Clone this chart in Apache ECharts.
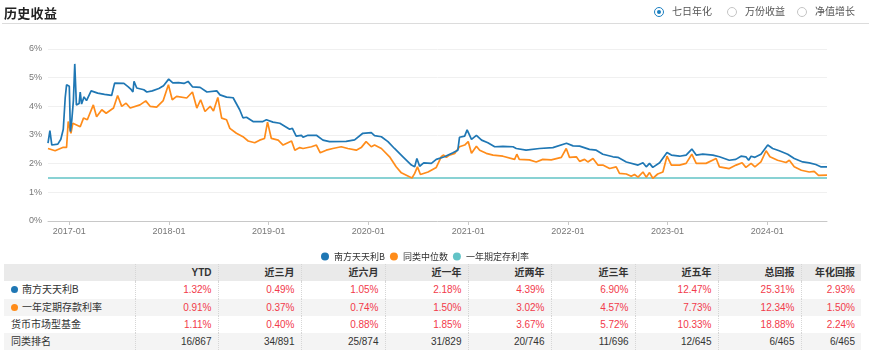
<!DOCTYPE html>
<html><head><meta charset="utf-8">
<script src="https://cdn.jsdelivr.net/npm/echarts@6/dist/echarts.min.js"></script>
<style>
html,body{margin:0;padding:0;background:#fff;width:869px;height:356px;overflow:hidden;font-family:"Liberation Sans",Arial,"Noto Sans CJK SC",sans-serif;}
#chart{position:absolute;left:0;top:0;width:869px;height:262px;}
#title{position:absolute;left:4px;top:3px;font-size:13px;font-weight:bold;color:#222;z-index:2;letter-spacing:0.3px}
#rule{position:absolute;left:2px;right:0;top:23px;height:1px;background:#dcdcdc;z-index:2}
.radio{position:absolute;top:6px;font-size:10px;color:#555;z-index:2;line-height:12px}
.radio i{position:absolute;left:-18px;top:1px;width:8px;height:8px;border:1px solid #c4c4c4;border-radius:50%;box-sizing:content-box}
.radio.on i{border-color:#1b7fc0}
.radio.on i:after{content:"";position:absolute;left:2px;top:2px;width:4px;height:4px;border-radius:50%;background:#1b7fc0}
table{position:absolute;left:4px;top:264px;border-collapse:collapse;table-layout:fixed;width:857px;font-size:10px;color:#333;z-index:2}
td,th{height:17.3px;padding:0 6px 0 0;text-align:right;white-space:nowrap;border-left:1px dotted #d6d6d6;line-height:17px}
td:first-child,th:first-child{text-align:left;padding-left:7px;border-left:none}
thead th{background:#eaeaea;font-weight:bold;color:#333}
tbody tr:nth-child(2) td,tbody tr:nth-child(4) td{background:#f4f4f4}
.r{color:#f23a4a}
.dot{display:inline-block;width:7px;height:7px;border-radius:50%;margin-right:4px;vertical-align:-0px}
</style></head>
<body>
<div id="chart"></div>
<div id="title">历史收益</div>
<div id="rule"></div>
<div class="radio on" style="left:672px"><i></i>七日年化</div>
<div class="radio" style="left:745px"><i></i>万份收益</div>
<div class="radio" style="left:815px"><i></i>净值增长</div>
<table id="tbl"><colgroup id="cg"></colgroup><thead><tr id="hrow"></tr></thead><tbody id="tb"></tbody></table>
<script>
// ---- chart data ----
const seriesNames = ['南方天天利B', '同类中位数', '一年期定存利率'];
const fundDates = ['2016-10-15','2016-10-22','2016-10-29','2016-11-20','2016-12-01','2016-12-10','2016-12-17','2016-12-22','2017-01-01','2017-01-05','2017-01-10','2017-01-16','2017-01-21','2017-01-27','2017-02-06','2017-02-10','2017-02-15','2017-02-24','2017-03-05','2017-03-22','2017-04-15','2017-05-10','2017-06-05','2017-06-16','2017-07-20','2017-08-05','2017-08-16','2017-08-22','2017-08-26','2017-09-05','2017-10-01','2017-10-12','2017-11-01','2017-11-25','2017-12-12','2017-12-31','2018-01-15','2018-02-05','2018-02-25','2018-03-12','2018-03-28','2018-04-25','2018-05-20','2018-06-25','2018-07-07','2018-07-31','2018-08-24','2018-09-17','2018-09-29','2018-10-12','2018-11-05','2018-12-11','2018-12-24','2019-01-17','2019-02-11','2019-03-19','2019-03-29','2019-04-12','2019-05-01','2019-05-07','2019-05-25','2019-06-25','2019-07-19','2019-08-12','2019-10-12','2019-11-12','2019-12-12','2020-01-12','2020-01-24','2020-02-18','2020-03-13','2020-04-06','2020-05-07','2020-06-07','2020-06-19','2020-06-27','2020-07-07','2020-07-22','2020-08-19','2020-09-06','2020-10-06','2020-11-06','2020-11-24','2020-11-30','2020-12-19','2020-12-28','2021-01-13','2021-01-31','2021-02-19','2021-03-14','2021-04-08','2021-05-08','2021-06-14','2021-06-26','2021-08-01','2021-09-19','2021-11-07','2021-12-27','2022-01-20','2022-02-13','2022-03-21','2022-04-15','2022-05-09','2022-06-15','2022-07-03','2022-08-03','2022-09-15','2022-10-03','2022-10-15','2022-10-27','2022-11-08','2022-12-03','2022-12-30','2023-01-15','2023-02-14','2023-03-10','2023-03-31','2023-04-16','2023-05-10','2023-06-16','2023-07-10','2023-08-15','2023-09-08','2023-09-27','2023-10-15','2023-10-25','2023-11-03','2023-11-17','2023-12-09','2024-01-03','2024-01-21','2024-02-14','2024-03-16','2024-04-09','2024-05-10','2024-06-03','2024-06-27','2024-07-15','2024-08-07'];
const fundValues = [2.72,3.15,2.65,2.68,2.85,3.2,4.3,4.75,4.7,3.12,3.5,4.2,5.48,4.05,4.1,4.5,4.08,4.33,4.2,4.54,4.46,4.42,4.38,4.81,4.8,4.68,4.58,4.5,4.87,4.64,4.58,4.5,4.54,4.62,4.72,4.95,4.82,4.83,4.8,4.87,4.68,4.66,4.5,4.54,4.4,4.32,4.3,3.88,3.6,3.62,3.47,3.47,3.53,3.45,3.41,3.2,3.23,2.96,2.99,2.92,2.99,2.99,2.82,2.77,2.78,2.83,3.06,3.08,2.98,2.94,2.77,2.53,2.24,1.95,1.89,2.18,1.91,2.03,2.01,2.15,2.24,2.38,2.47,2.92,2.96,3.18,2.85,2.99,2.82,2.73,2.59,2.6,2.59,2.53,2.47,2.53,2.56,2.71,2.62,2.61,2.5,2.47,2.33,2.24,2.22,2.06,1.95,2.03,1.89,2.01,1.87,2.03,2.39,2.3,2.26,2.3,2.51,2.3,2.33,2.3,2.24,2.12,2.15,2.26,2.24,2.12,2.26,2.22,2.33,2.65,2.53,2.45,2.33,2.18,2.06,2.03,1.97,1.89,1.89];
const medianDates = ['2016-10-15','2016-11-10','2016-12-10','2016-12-22','2016-12-28','2017-01-07','2017-01-14','2017-02-10','2017-02-22','2017-03-08','2017-03-30','2017-04-11','2017-04-30','2017-05-16','2017-06-12','2017-06-27','2017-07-12','2017-07-28','2017-08-12','2017-09-17','2017-10-08','2017-10-24','2017-11-17','2017-12-11','2017-12-30','2018-01-13','2018-01-29','2018-03-07','2018-03-28','2018-04-13','2018-04-27','2018-05-13','2018-06-01','2018-06-13','2018-06-29','2018-07-13','2018-07-31','2018-08-12','2018-09-05','2018-09-29','2018-10-18','2018-11-11','2018-11-29','2018-12-17','2018-12-28','2019-01-11','2019-02-05','2019-02-23','2019-03-26','2019-04-07','2019-04-25','2019-05-07','2019-06-07','2019-06-25','2019-07-09','2019-07-31','2019-08-24','2019-09-24','2019-10-18','2019-11-18','2019-12-06','2019-12-24','2020-01-12','2020-01-24','2020-02-18','2020-03-19','2020-04-12','2020-05-01','2020-05-25','2020-06-09','2020-06-19','2020-06-29','2020-07-10','2020-08-07','2020-09-06','2020-09-24','2020-10-03','2020-10-13','2020-10-24','2020-11-13','2020-11-30','2020-12-19','2021-01-01','2021-01-13','2021-01-31','2021-02-12','2021-03-08','2021-04-02','2021-05-08','2021-06-20','2021-06-28','2021-07-07','2021-08-13','2021-09-07','2021-10-01','2021-11-01','2021-12-08','2021-12-26','2022-01-07','2022-02-01','2022-02-13','2022-03-03','2022-03-15','2022-04-03','2022-04-21','2022-05-09','2022-06-03','2022-06-27','2022-07-09','2022-08-03','2022-08-21','2022-09-02','2022-09-15','2022-10-03','2022-10-15','2022-10-27','2022-11-08','2022-11-26','2022-12-15','2022-12-30','2023-01-15','2023-02-14','2023-03-10','2023-03-31','2023-04-16','2023-05-22','2023-06-28','2023-07-10','2023-08-15','2023-09-09','2023-10-01','2023-10-15','2023-11-03','2023-11-17','2023-12-09','2023-12-28','2024-01-11','2024-02-08','2024-03-10','2024-03-22','2024-04-09','2024-05-05','2024-06-03','2024-06-21','2024-07-07','2024-08-07'];
const medianValues = [2.53,2.45,2.57,2.57,3.47,3.06,3.41,3.29,3.59,3.53,4.05,3.64,3.88,3.76,3.94,4.38,4.0,4.11,3.94,4.05,4.19,4.0,3.97,4.2,4.75,4.23,4.35,4.29,4.5,3.94,4.23,3.82,4.0,3.84,4.31,3.59,3.53,3.23,3.06,2.94,2.79,2.73,2.82,2.88,3.45,2.88,2.82,2.65,2.79,2.47,2.56,2.53,2.59,2.65,2.38,2.47,2.53,2.59,2.53,2.47,2.56,2.77,2.59,2.65,2.53,2.24,1.89,1.68,1.57,1.5,1.66,1.89,1.62,1.71,1.87,2.24,2.3,2.22,2.3,2.36,2.59,2.65,2.77,2.36,2.61,2.47,2.36,2.3,2.26,2.15,2.33,2.15,2.13,2.06,2.15,2.13,2.22,2.53,2.22,2.24,2.08,2.15,2.06,2.18,1.95,1.95,1.83,1.89,1.66,1.64,1.56,1.62,1.53,1.71,1.53,1.69,1.49,1.64,1.71,2.26,1.95,1.95,2.01,2.33,2.01,2.01,2.18,1.89,1.83,1.95,2.03,1.87,2.01,1.89,2.06,2.45,2.24,2.12,2.04,2.12,1.89,1.77,1.71,1.73,1.59,1.6];
const depositDates = ['2016-10-15','2024-08-07'];
const depositValues = [1.5,1.5];
const yTicks = [0,1,2,3,4,5,6];

// ---- table data ----
const tableHeaders = ['', 'YTD', '近三月', '近六月', '近一年', '近两年', '近三年', '近五年', '总回报', '年化回报'];
const rowLabels = ['南方天天利B', '一年定期存款利率', '货币市场型基金', '同类排名'];
const rowFund = ['1.32%','0.49%','1.05%','2.18%','4.39%','6.90%','12.47%','25.31%','2.93%'];
const rowDeposit = ['0.91%','0.37%','0.74%','1.50%','3.02%','4.57%','7.73%','12.34%','1.50%'];
const rowMoney = ['1.11%','0.40%','0.88%','1.85%','3.67%','5.72%','10.33%','18.88%','2.24%'];
const rowRank = ['16/867','34/891','25/874','31/829','20/746','11/696','12/645','6/465','6/465'];

const colors = ['#1f77b4', '#ff8c1a', '#62c3c6'];

function pairs(d, v){ return d.map((x,i)=>[x, v[i]]); }

const chart = echarts.init(document.getElementById('chart'), null, {renderer:'canvas'});
const DAY = 86400000;
chart.setOption({
  animation:false,
  textStyle:{fontFamily:'"Liberation Sans", Arial, "Noto Sans CJK SC", sans-serif'},
  color: colors,
  grid:{left:48, right:42, top:49, bottom:41},
  legend:{
    data: seriesNames, left:316, top:247, icon:'circle', itemWidth:8, itemHeight:8, itemGap:5,
    textStyle:{fontSize:9, color:'#333', fontFamily:'"Noto Sans CJK SC", "Liberation Sans", sans-serif'}
  },
  xAxis:{
    type:'time', min:'2016-10-15', max:'2024-08-07',
    minInterval: 365*DAY, maxInterval: 366*DAY, splitNumber: 8,
    axisLine:{lineStyle:{color:'#c8c8c8'}},
    axisTick:{show:true, length:4, lineStyle:{color:'#c8c8c8'}},
    splitLine:{show:false},
    axisLabel:{color:'#777', fontSize:9, margin:6, hideOverlap:false,
      formatter:function(v){ const d=new Date(v); const m=d.getMonth()+1; return d.getFullYear()+'-'+(m<10?'0'+m:m); }}
  },
  yAxis:{
    type:'value', min:yTicks[0], max:yTicks[yTicks.length-1], interval:1,
    axisLine:{show:false}, axisTick:{show:false},
    splitLine:{lineStyle:{color:'#f0f0f0'}},
    axisLabel:{color:'#777', fontSize:9, margin:6, formatter:'{value}%'}
  },
  series:[
    {name:seriesNames[0], type:'line', data:pairs(fundDates, fundValues), showSymbol:false, symbol:'circle', lineStyle:{width:1.7, color:colors[0]}, z:3},
    {name:seriesNames[1], type:'line', data:pairs(medianDates, medianValues), showSymbol:false, symbol:'circle', lineStyle:{width:1.7, color:colors[1]}, z:2},
    {name:seriesNames[2], type:'line', data:pairs(depositDates, depositValues), showSymbol:false, symbol:'circle', lineStyle:{width:1.7, color:colors[2]}, z:1}
  ]
});

// ---- table ----
const widths = [131,83,83,84,83,83,84,83,83,60];
const cg = document.getElementById('cg');
widths.forEach(w=>{ const c=document.createElement('col'); c.style.width=w+'px'; cg.appendChild(c); });
const hrow = document.getElementById('hrow');
tableHeaders.forEach(h=>{ const th=document.createElement('th'); th.textContent=h; hrow.appendChild(th); });
const tb = document.getElementById('tb');
const rows = [rowFund, rowDeposit, rowMoney, rowRank];
const dotColors = [colors[0], colors[1], null, null];
rows.forEach((r,i)=>{
  const tr=document.createElement('tr');
  const td0=document.createElement('td');
  if(dotColors[i]){ const s=document.createElement('span'); s.className='dot'; s.style.background=dotColors[i]; td0.appendChild(s); }
  td0.appendChild(document.createTextNode(rowLabels[i]));
  tr.appendChild(td0);
  r.forEach(v=>{ const td=document.createElement('td'); td.textContent=v; if(i<3) td.className='r'; tr.appendChild(td); });
  tb.appendChild(tr);
});
</script>
</body></html>
